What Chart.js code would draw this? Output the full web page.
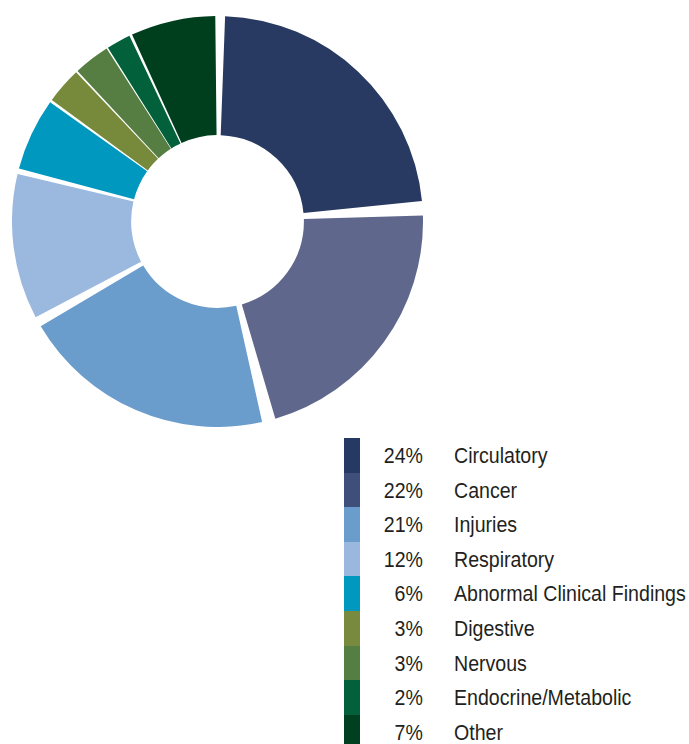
<!DOCTYPE html>
<html>
<head>
<meta charset="utf-8">
<script src="https://cdn.jsdelivr.net/npm/chart.js@4.4.1/dist/chart.umd.min.js"></script>
<style>
  html, body { margin: 0; padding: 0; background: #fff; }
  body { width: 689px; height: 744px; position: relative; overflow: hidden; }
  #chartBox { position: absolute; left: 12px; top: 16px; width: 411px; height: 411px; }
  #legend { position: absolute; left: 344px; top: 438px; }
  .row { position: relative; height: 34.6px; width: 345px; }
  .swatch { position: absolute; left: 0; top: 0; width: 16px; height: 100%; }
  .pct, .lbl {
    position: absolute; top: 1px; line-height: 34.6px;
    font-family: "Liberation Sans", Arial, sans-serif;
    font-size: 22px; color: #231f20; white-space: nowrap;
  }
  /* source font is a narrow grotesque, squeeze the text a bit */
  .pct { right: 266px; text-align: right; transform: scaleX(0.89); transform-origin: right center; }
  .lbl { left: 110px; transform: scaleX(0.89); transform-origin: left center; }
</style>
</head>
<body>
<div id="chartBox"><canvas id="causesChart"></canvas></div>
<div id="legend"></div>

<script>
// causes of death, share in percent
const categories = [
  "Circulatory", "Cancer", "Injuries", "Respiratory",
  "Abnormal Clinical Findings", "Digestive", "Nervous",
  "Endocrine/Metabolic", "Other"
];
const shares = [24, 22, 21, 12, 6, 3, 3, 2, 7];

const sliceColors = [
  "#283a62", "#5f688c", "#6a9dcb", "#9bb8de",
  "#0098bf", "#778a3c", "#567e42", "#02613a", "#003f1e"
];
const legendColors = [
  "#253a63", "#3e4f7a", "#6a9dcb", "#9ab8de",
  "#0098bf", "#778a3d", "#557e42", "#02613a", "#003f1f"
];

// legend rows built from the same arrays
const legend = document.getElementById("legend");
categories.forEach((name, i) => {
  const row = document.createElement("div");
  row.className = "row";
  row.innerHTML =
    `<div class="swatch" style="background:${legendColors[i]}"></div>` +
    `<div class="pct">${shares[i]}%</div>` +
    `<div class="lbl">${name}</div>`;
  legend.appendChild(row);
});

const ctx = document.getElementById("causesChart").getContext("2d");
new Chart(ctx, {
  type: "doughnut",
  data: {
    labels: categories,
    datasets: [
      {
        data: shares,
        backgroundColor: sliceColors,
        borderWidth: 0,
        spacing: 14,
      },
    ],
  },
  options: {
    responsive: true,
    maintainAspectRatio: false,
    animation: false,
    cutout: "40%",
    layout: { padding: 0 },
    plugins: {
      legend: { display: false },
      tooltip: { enabled: false },
    },
  },
});
</script>
</body>
</html>
